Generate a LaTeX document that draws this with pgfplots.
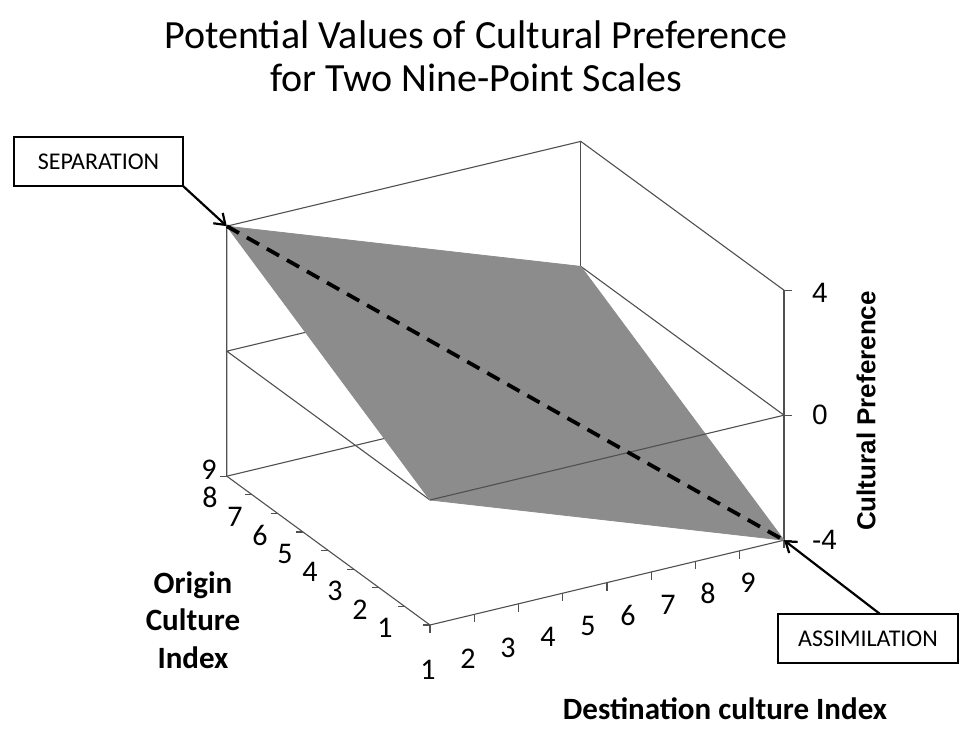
\documentclass[border=0pt]{standalone}
\usepackage{pgfplots}
\pgfplotsset{compat=1.18}
\usepackage{fontspec}
\setmainfont{Carlito}
\newfontfamily\arialfont{Liberation Sans}
\usetikzlibrary{arrows.meta}

\definecolor{planegray}{RGB}{140,140,140}
\definecolor{edgegray}{RGB}{80,80,80}

\begin{document}
\begin{tikzpicture}[
  boxl/.style={edgegray, line width=0.55pt},
  tickl/.style={edgegray, line width=0.6pt},
  ticklab/.style={font=\fontsize{15}{17}\selectfont, inner sep=0pt},
]
\begin{axis}[
  hide axis, clip=false,
  x={(22.125pt,5.3pt)}, y={(-12.7pt,9.3pt)}, z={(0pt,15.625pt)},
  xmin=1, xmax=9, ymin=1, ymax=9, zmin=-4, zmax=4,
  colormap={flatgray}{rgb255=(140,140,140) rgb255=(140,140,140)},
]
  % walls and floor behind the surface
  \draw[boxl] (axis cs:1,9,-4) -- (axis cs:1,9,4) -- (axis cs:9,9,4) -- (axis cs:9,1,4);
  \draw[boxl] (axis cs:9,9,4) -- (axis cs:9,9,-4);
  \draw[boxl] (axis cs:1,9,-4) -- (axis cs:9,9,-4) -- (axis cs:9,1,-4);
  \draw[boxl] (axis cs:1,1,0) -- (axis cs:1,9,0) -- (axis cs:9,9,0) -- (axis cs:9,1,0);
  \draw[boxl] (axis cs:1,9,-4) -- (axis cs:1,1,-4) -- (axis cs:9,1,-4);
  \draw[edgegray, line width=0.7pt] (axis cs:9,1,-4) -- (axis cs:9,1,4);

  % cultural preference = (origin - destination)/2
  \addplot3[surf, shader=flat] coordinates {
    (1,1,0) (9,1,-4)

    (1,9,4) (9,9,0)
  };

  \draw[boxl] (axis cs:1,1,0) -- (axis cs:9,1,0);

  \addplot3[black, line width=1.9pt, dash pattern=on 7pt off 4.5pt]
    coordinates {(1,9,4) (9,1,-4)};

  % tick marks
  \pgfplotsinvokeforeach{1,...,9}{
    \draw[tickl] (axis cs:#1,1,-4) -- ++(0pt,-4pt);
    \draw[tickl] (axis cs:1,#1,-4) -- ++(-3.5pt,0pt);
  }
  \pgfplotsinvokeforeach{-4,0,4}{
    \draw[tickl] (axis cs:9,1,#1) -- ++(4pt,0pt);
  }

  \coordinate (O) at (axis cs:1,1,-4);
  \coordinate (S) at (axis cs:1,9,4);
  \coordinate (A) at (axis cs:9,1,-4);
\end{axis}

\begin{scope}[shift={(O)}, xshift=-215pt, yshift=312.5pt, x=0.5pt, y=-0.5pt]
  \path (0,0) rectangle (976,742);

  % title
  \node[font=\fontsize{20}{24}\selectfont] at (476,35) {Potential Values of Cultural Preference};
  \node[font=\fontsize{20}{24}\selectfont] at (476,78) {for Two Nine-Point Scales};

  % destination tick labels
  \foreach \k in {1,...,9}
    \node[ticklab] at ({428+40*(\k-1)},{670-10.9*(\k-1)}) {\k};
  % origin tick labels
  \foreach \k in {1,...,8}
    \node[ticklab] at ({385-25*(\k-1)},{628-18.6*(\k-1)}) {\k};
  \node[ticklab] at (209,470) {9};
  % preference tick labels
  \node[font=\arialfont\fontsize{14}{16}\selectfont, anchor=west] at (805,293) {4};
  \node[font=\arialfont\fontsize{14}{16}\selectfont, anchor=west] at (805,415) {0};
  \node[font=\arialfont\fontsize{14}{16}\selectfont, anchor=west] at (805,540) {-4};

  % axis titles
  \node[font=\bfseries\fontsize{15.5}{18.75}\selectfont, align=center] at (193,620)
    {Origin\\Culture\\Index};
  \node[font=\bfseries\fontsize{15.5}{18}\selectfont] at (725,709) {Destination culture Index};
  \node[font=\arialfont\bfseries\fontsize{13}{15}\selectfont, rotate=90] at (866,411)
    {Cultural Preference};

  % callouts
  \draw[black, line width=0.9pt] (14,137) rectangle (183,186);
  \node[font=\fontsize{12}{14}\selectfont] at (98.5,161.5) {SEPARATION};
  \draw[black, line width=1.1pt, -{Straight Barb[length=5pt,width=7pt]}] (183,186) -- (S);

  \draw[black, line width=0.9pt] (778,614) rectangle (958,663);
  \node[font=\fontsize{12}{14}\selectfont] at (868,639) {ASSIMILATION};
  \draw[black, line width=1.1pt, -{Straight Barb[length=5pt,width=7pt]}] (880,614) -- (A);
\end{scope}
\end{tikzpicture}
\end{document}
